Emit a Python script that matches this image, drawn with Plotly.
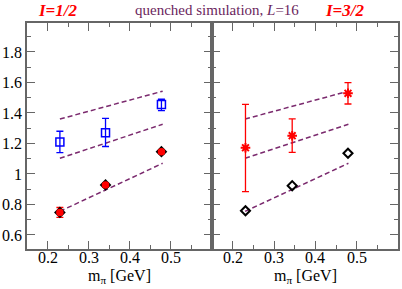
import plotly.graph_objects as go

# ---- data ----
mpi = [0.23, 0.341, 0.477]
mpi_r = [0.231, 0.344, 0.479]

# left panel (I=1/2)
blue_y = [1.21, 1.27, 1.455]
blue_err_plus = [0.07, 0.095, 0.035]
blue_err_minus = [0.07, 0.09, 0.04]
red_y = [0.748, 0.928, 1.146]
red_err = [0.032, 0.012, 0.012]

# right panel (I=3/2)
star_y = [1.172, 1.251, 1.529]
star_err_plus = [0.285, 0.11, 0.07]
star_err_minus = [0.288, 0.109, 0.07]
diam_y = [0.759, 0.923, 1.136]

# free levels (dashed lines)
line_x = [0.23, 0.48]
upper_line = [1.36, 1.543]
middle_line = [1.103, 1.326]
lower_line = [0.755, 1.07]

xticks = [0.2, 0.3, 0.4, 0.5]
xticklabels = ["0.2", "0.3", "0.4", "0.5"]
yticks = [0.6, 0.8, 1.0, 1.2, 1.4, 1.6, 1.8]
yticklabels = ["0.6", "0.8", "1", "1.2", "1.4", "1.6", "1.8"]

RED = "#ff0000"
BLUE = "#0000ff"
PURPLE = "#7b2a6e"
FRAME = "#666666"
SERIF = "Liberation Serif"

fig = go.Figure()

for xa, ya in [("x", "y"), ("x2", "y2")]:
    for ln in (upper_line, middle_line, lower_line):
        fig.add_trace(go.Scatter(x=line_x, y=ln, mode="lines", xaxis=xa, yaxis=ya,
                                 line=dict(color=PURPLE, width=1.5, dash="5px,3px"),
                                 showlegend=False, hoverinfo="skip"))

# left panel
fig.add_trace(go.Scatter(x=mpi, y=blue_y, mode="markers", xaxis="x", yaxis="y",
                         marker=dict(symbol="square-open", size=8, color=BLUE, line=dict(width=1.5)),
                         error_y=dict(type="data", array=blue_err_plus, arrayminus=blue_err_minus,
                                      color=BLUE, thickness=1.3, width=3.5),
                         showlegend=False))
fig.add_trace(go.Scatter(x=mpi, y=red_y, mode="markers", xaxis="x", yaxis="y",
                         marker=dict(symbol="diamond", size=9, color="black"),
                         error_y=dict(type="data", array=red_err, color=RED, thickness=1.3, width=3.5),
                         showlegend=False))
fig.add_trace(go.Scatter(x=mpi, y=red_y, mode="markers", xaxis="x", yaxis="y",
                         marker=dict(symbol="circle", size=7.5, color=RED, line=dict(width=0)),
                         showlegend=False))

# right panel
fig.add_trace(go.Scatter(x=mpi_r, y=star_y, mode="markers", xaxis="x2", yaxis="y2",
                         marker=dict(symbol="asterisk-open", size=8, color=RED, line=dict(width=2, color=RED)),
                         error_y=dict(type="data", array=star_err_plus, arrayminus=star_err_minus,
                                      color=RED, thickness=1.3, width=3.5),
                         showlegend=False))
fig.add_trace(go.Scatter(x=mpi_r, y=diam_y, mode="markers", xaxis="x2", yaxis="y2",
                         marker=dict(symbol="diamond-open", size=7, color="black", line=dict(width=2, color="black")),
                         showlegend=False))

ax_common = dict(showline=True, linecolor=FRAME, linewidth=1.5, mirror="allticks",
                 ticks="inside", ticklen=8, tickwidth=1.2, tickcolor=FRAME,
                 showgrid=False, zeroline=False,
                 tickfont=dict(family=SERIF, size=16, color="black"))

xr = [0.15, 0.6]
yr = [0.508, 1.99]

fig.update_layout(
    width=402, height=289,
    margin=dict(l=27, r=2, t=23, b=40),
    paper_bgcolor="white", plot_bgcolor="white",
    font=dict(family=SERIF),
    xaxis=dict(domain=[0, 186 / 373], range=xr, tickvals=xticks, showticklabels=False,
               minor=dict(dtick=0.05, tick0=0.15, ticks="inside", ticklen=4, tickcolor=FRAME),
               anchor="y", **ax_common),
    yaxis=dict(range=yr, tickvals=yticks, ticktext=yticklabels,
               minor=dict(dtick=0.1, tick0=0.5, ticks="inside", ticklen=4, tickcolor=FRAME),
               anchor="x", **ax_common),
    xaxis2=dict(domain=[186 / 373, 1], range=xr, tickvals=xticks, showticklabels=False,
                minor=dict(dtick=0.05, tick0=0.15, ticks="inside", ticklen=4, tickcolor=FRAME),
                anchor="y2", **ax_common),
    yaxis2=dict(range=yr, tickvals=yticks, showticklabels=False,
                minor=dict(dtick=0.1, tick0=0.5, ticks="inside", ticklen=4, tickcolor=FRAME),
                anchor="x2", **ax_common),
)

def px_x(p):
    return (p - 27) / 373

def px_y(p):
    return (249 - p) / 226

# x tick labels placed through the axis scale
for xref in ("x", "x2"):
    for v, t in zip(xticks, xticklabels):
        fig.add_annotation(xref=xref, yref="paper", x=v, y=px_y(257), text=t, showarrow=False,
                           xanchor="center", yanchor="middle",
                           font=dict(family=SERIF, size=16, color="black"))

annots = [
    dict(text="<b><i>I=1/2</i></b>", x=px_x(58), y=px_y(10), font=dict(family=SERIF, size=17, color=RED)),
    dict(text="quenched simulation, <i>L</i>=16", x=px_x(218), y=px_y(10), font=dict(family=SERIF, size=15, color="#6b1f5d")),
    dict(text="<b><i>I=3/2</i></b>", x=px_x(347), y=px_y(10), font=dict(family=SERIF, size=17, color=RED)),
    dict(text="m<sub>π</sub> [GeV]", x=px_x(120), y=px_y(276), font=dict(family=SERIF, size=16, color="black")),
    dict(text="m<sub>π</sub> [GeV]", x=px_x(307), y=px_y(276), font=dict(family=SERIF, size=16, color="black")),
]
for a in annots:
    fig.add_annotation(xref="paper", yref="paper", showarrow=False, xanchor="center", yanchor="middle",
                       borderpad=0, **a)

fig.write_html("out.html", config={"displayModeBar": False},
               post_script="document.body.style.margin='0';document.body.style.overflow='hidden';")
